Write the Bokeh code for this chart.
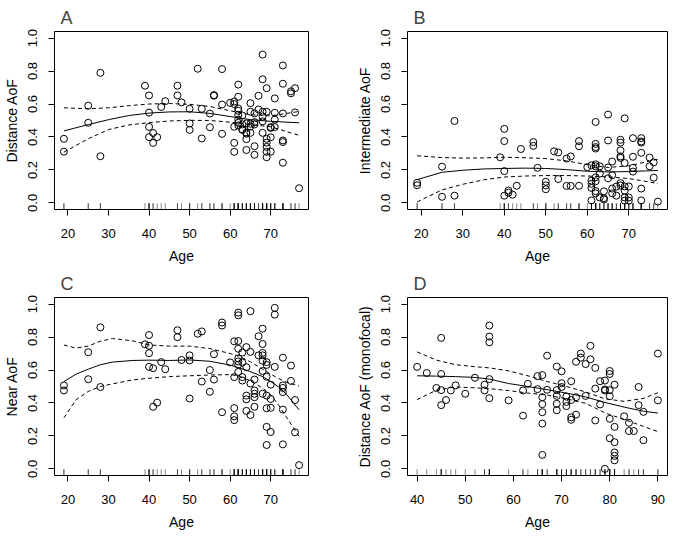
from bokeh.plotting import figure
from bokeh.layouts import gridplot
from bokeh.models import Range1d, FixedTicker, NumeralTickFormatter
from bokeh.embed import file_html
from bokeh.resources import INLINE

FONT = "Liberation Sans"

# ---------------- Panel A : Distance AoF ----------------
a_age = [19, 19, 25, 25, 28, 28, 39, 40, 40, 40, 40, 41, 41, 42, 43, 44, 47, 47, 48,
         50, 50, 50, 52, 53, 53, 55, 55, 56, 56, 58, 58, 58, 60,
         61, 61, 61, 61, 61,
         62, 62, 62, 62, 62, 62, 62, 62,
         63, 63, 63, 63,
         64, 64, 64, 64, 64,
         65, 65, 65, 65, 65,
         66, 66, 66, 66, 66,
         67, 67,
         68, 68, 68, 68, 68, 68,
         69, 69, 69, 69, 69, 69, 69,
         70, 70, 70, 70,
         71, 71, 71, 71,
         73, 73, 73, 73, 73, 73,
         75, 75, 76, 76, 77]
a_val = [0.389, 0.311, 0.590, 0.486, 0.789, 0.283, 0.711, 0.652, 0.548, 0.461, 0.399, 0.424, 0.364, 0.399, 0.582, 0.617, 0.711, 0.652, 0.610,
         0.571, 0.482, 0.443, 0.814, 0.571, 0.391, 0.542, 0.459, 0.654, 0.650, 0.812, 0.597, 0.419, 0.607,
         0.615, 0.600, 0.462, 0.364, 0.310,
         0.718, 0.644, 0.573, 0.559, 0.534, 0.505, 0.486, 0.470,
         0.530, 0.476, 0.447, 0.443,
         0.482, 0.427, 0.420, 0.387, 0.321,
         0.605, 0.553, 0.480, 0.464, 0.425,
         0.543, 0.490, 0.476, 0.344, 0.292,
         0.650, 0.567,
         0.900, 0.750, 0.553, 0.524, 0.495, 0.425,
         0.696, 0.553, 0.389, 0.366, 0.340, 0.310, 0.277,
         0.460, 0.455, 0.398, 0.311,
         0.634, 0.547, 0.505, 0.460,
         0.834, 0.723, 0.543, 0.379, 0.369, 0.244,
         0.677, 0.665, 0.696, 0.549, 0.089]
a_fit_age = [19, 25, 30, 35, 40, 45, 50, 55, 60, 65, 70, 77]
a_fit = [0.437, 0.475, 0.505, 0.530, 0.545, 0.552, 0.553, 0.543, 0.524, 0.505, 0.495, 0.486]
a_upper = [0.577, 0.571, 0.577, 0.590, 0.600, 0.603, 0.598, 0.585, 0.559, 0.535, 0.528, 0.555]
a_lower = [0.308, 0.389, 0.445, 0.473, 0.487, 0.497, 0.501, 0.500, 0.490, 0.475, 0.462, 0.410]

# ---------------- Panel B : Intermediate AoF ----------------
b_age = [19, 19, 25, 25, 28, 28, 39, 40, 40, 40, 40, 41, 41, 42, 43, 44, 47, 47, 48,
         50, 50, 50, 52, 53, 53, 55, 55, 56, 56, 58, 58, 58, 60,
         61, 61, 61, 61, 61,
         62, 62, 62, 62, 62, 62, 62, 62, 62, 62,
         63, 63, 63, 64, 64, 64,
         65, 65, 65, 65, 66, 66, 66, 66, 67, 67,
         68, 68, 68, 68, 68, 68, 68,
         69, 69, 69, 69, 69, 69, 70, 70, 70,
         71, 71, 71, 71, 73, 73, 73, 73, 73, 73,
         75, 75, 76, 76, 77]
b_val = [0.122, 0.107, 0.220, 0.037, 0.497, 0.044, 0.277, 0.449, 0.375, 0.193, 0.044, 0.075, 0.062, 0.050, 0.104, 0.327, 0.369, 0.346, 0.213,
         0.128, 0.106, 0.083, 0.313, 0.306, 0.145, 0.269, 0.103, 0.282, 0.103, 0.375, 0.344, 0.104, 0.217,
         0.228, 0.135, 0.116, 0.091, 0.015,
         0.491, 0.358, 0.339, 0.330, 0.234, 0.222, 0.155, 0.131, 0.072, 0.058,
         0.178, 0.222, 0.033, 0.070, 0.029, 0.021,
         0.536, 0.379, 0.215, 0.149, 0.251, 0.168, 0.087, 0.058, 0.099, 0.044,
         0.383, 0.366, 0.319, 0.282, 0.273, 0.120, 0.106,
         0.513, 0.242, 0.100, 0.074, 0.033, 0.014, 0.100, 0.033, 0.014,
         0.393, 0.280, 0.213, 0.190, 0.393, 0.373, 0.366, 0.304, 0.087, 0.015,
         0.275, 0.222, 0.246, 0.153, 0.008]
b_fit_age = [19, 25, 30, 35, 40, 45, 50, 55, 60, 65, 70, 77]
b_fit = [0.141, 0.186, 0.198, 0.206, 0.209, 0.211, 0.209, 0.202, 0.192, 0.188, 0.190, 0.197]
b_upper = [0.286, 0.275, 0.272, 0.273, 0.277, 0.274, 0.269, 0.255, 0.232, 0.215, 0.225, 0.265]
b_lower = [0.006, 0.079, 0.113, 0.140, 0.157, 0.163, 0.166, 0.166, 0.163, 0.158, 0.148, 0.118]

# ---------------- Panel C : Near AoF ----------------
c_age = [19, 19, 25, 25, 28, 28, 39, 40, 40, 40, 40, 41, 41, 42, 43, 44, 47, 47, 48,
         50, 50, 50, 52, 53, 53, 55, 55, 56, 56, 58, 58, 58, 60,
         61, 61, 61, 61, 61,
         62, 62, 62, 62, 62, 62, 62, 62,
         63, 63, 63, 63, 64, 64, 64, 64, 64,
         65, 65, 65, 65, 66, 66, 66, 66, 66, 67, 67,
         68, 68, 68, 68, 68, 68, 68,
         69, 69, 69, 69, 69, 69, 69, 70, 70, 70, 70,
         71, 71, 71, 73, 73, 73, 73, 73, 73,
         75, 75, 76, 76, 77]
c_val = [0.507, 0.476, 0.708, 0.544, 0.859, 0.497, 0.756, 0.812, 0.747, 0.702, 0.619, 0.611, 0.377, 0.402, 0.648, 0.605, 0.841, 0.799, 0.661,
         0.689, 0.658, 0.427, 0.820, 0.834, 0.530, 0.600, 0.468, 0.696, 0.542, 0.888, 0.870, 0.344, 0.646,
         0.774, 0.557, 0.369, 0.319, 0.296,
         0.948, 0.932, 0.776, 0.729, 0.671, 0.652, 0.632, 0.588,
         0.706, 0.646, 0.557, 0.536, 0.739, 0.617, 0.445, 0.422, 0.352,
         0.957, 0.710, 0.518, 0.327, 0.542, 0.476, 0.456, 0.435, 0.377, 0.805, 0.689,
         0.851, 0.758, 0.704, 0.689, 0.656, 0.594, 0.456,
         0.648, 0.631, 0.559, 0.445, 0.368, 0.255, 0.145, 0.511, 0.424, 0.371, 0.224,
         0.977, 0.936, 0.619, 0.675, 0.507, 0.491, 0.466, 0.360, 0.149,
         0.627, 0.534, 0.418, 0.222, 0.023]
c_fit_age = [19, 22, 25, 28, 31, 36, 40, 45, 50, 55, 60, 62, 65, 68, 70, 72, 74, 77]
c_fit = [0.530, 0.575, 0.605, 0.632, 0.648, 0.658, 0.660, 0.658, 0.661, 0.653, 0.630, 0.615, 0.590, 0.560, 0.530, 0.497, 0.450, 0.358]
c_upper = [0.752, 0.733, 0.745, 0.775, 0.791, 0.777, 0.752, 0.745, 0.745, 0.730, 0.700, 0.685, 0.650, 0.605, 0.575, 0.548, 0.525, 0.503]
c_lower = [0.310, 0.420, 0.470, 0.500, 0.516, 0.540, 0.550, 0.560, 0.565, 0.570, 0.572, 0.565, 0.535, 0.490, 0.450, 0.385, 0.310, 0.197]

# ---------------- Panel D : Distance AoF (monofocal) ----------------
d_age = [40, 42, 44, 45, 45, 45, 45, 46, 47, 48, 50, 52, 54, 54, 55, 55, 55, 55, 55,
         59, 62, 62, 63, 65, 65, 66, 66, 66, 66, 66, 66, 67, 67,
         69, 69, 69, 69, 69, 70, 70, 70, 71, 71, 71, 72, 72, 72, 72,
         73, 73, 73, 74, 74, 75, 75, 76, 76, 77, 77, 77, 78, 78,
         79, 79, 79, 79, 80, 80, 80, 80, 80, 80,
         81, 81, 81, 81, 81, 81, 83, 84, 84, 85, 86, 86, 87, 87, 90, 90]
d_val = [0.619, 0.582, 0.491, 0.795, 0.576, 0.478, 0.387, 0.418, 0.476, 0.507, 0.456, 0.553, 0.511, 0.476, 0.870, 0.803, 0.768, 0.545, 0.429,
         0.416, 0.323, 0.476, 0.516, 0.563, 0.484, 0.569, 0.435, 0.393, 0.344, 0.275, 0.085, 0.687, 0.480,
         0.621, 0.478, 0.443, 0.395, 0.356, 0.592, 0.520, 0.497, 0.439, 0.406, 0.381, 0.532, 0.418, 0.313, 0.298,
         0.650, 0.435, 0.329, 0.700, 0.675, 0.636, 0.443, 0.747, 0.665, 0.613, 0.487, 0.294, 0.532, 0.391,
         0.536, 0.482, 0.476, 0.000, 0.594, 0.576, 0.478, 0.441, 0.304, 0.186,
         0.511, 0.255, 0.162, 0.100, 0.079, 0.052, 0.319, 0.280, 0.230, 0.230, 0.497, 0.387, 0.346, 0.174, 0.700, 0.416]
d_fit_age = [40, 44, 48, 52, 55, 59, 63, 67, 71, 75, 79, 83, 87, 90]
d_fit = [0.565, 0.563, 0.560, 0.555, 0.545, 0.518, 0.500, 0.481, 0.460, 0.437, 0.403, 0.375, 0.350, 0.339]
d_upper = [0.710, 0.660, 0.632, 0.620, 0.613, 0.595, 0.565, 0.530, 0.500, 0.467, 0.425, 0.410, 0.428, 0.462]
d_lower = [0.420, 0.478, 0.497, 0.492, 0.487, 0.475, 0.460, 0.448, 0.425, 0.398, 0.340, 0.300, 0.258, 0.226]

ticks_abc = [20, 30, 40, 50, 60, 70]
ticks_d = [40, 50, 60, 70, 80, 90]
y_ticks = [0.0, 0.2, 0.4, 0.6, 0.8, 1.0]


def panel(letter, ylabel, ages, vals, fx, fy, fu, fl, xticks, bl, br):
    span = max(ages) - min(ages)
    xr = Range1d(min(ages) - 0.04 * span, max(ages) + 0.04 * span)
    yr = Range1d(-0.04, 1.04)
    p = figure(width=334, height=266, x_range=xr, y_range=yr,
               output_backend="svg", toolbar_location=None, title=letter,
               min_border_left=bl, min_border_right=br,
               min_border_top=31, min_border_bottom=46)
    p.title.text_font = FONT
    p.title.text_font_size = "18px"
    p.title.text_font_style = "normal"
    p.title.align = "left"
    p.title.offset = 6
    p.title.standoff = 8
    p.xgrid.visible = False
    p.ygrid.visible = False
    p.outline_line_color = "black"
    p.outline_line_alpha = 1.0
    p.outline_line_width = 1
    p.background_fill_color = "white"
    p.border_fill_color = "white"

    for ax in (p.xaxis[0], p.yaxis[0]):
        ax.axis_line_color = None
        ax.major_tick_out = 6
        ax.major_tick_in = 0
        ax.minor_tick_out = 0
        ax.minor_tick_in = 0
        ax.major_tick_line_color = "black"
        ax.major_label_text_font = FONT
        ax.major_label_text_font_size = "13px"
        ax.major_label_text_color = "black"
        ax.axis_label_text_font = FONT
        ax.axis_label_text_font_size = "14px"
        ax.axis_label_text_font_style = "normal"
        ax.axis_label_text_color = "black"

    p.xaxis.ticker = FixedTicker(ticks=xticks)
    p.xaxis.axis_label = "Age"
    p.xaxis.major_label_standoff = 13
    p.xaxis.axis_label_standoff = 7

    p.yaxis.ticker = FixedTicker(ticks=y_ticks)
    p.yaxis.formatter = NumeralTickFormatter(format="0.0")
    p.yaxis.major_label_orientation = "vertical"
    p.yaxis.axis_label = ylabel
    p.yaxis.major_label_standoff = 11
    p.yaxis.axis_label_standoff = 6

    # rug along the bottom edge
    rug_len = 0.038
    p.segment(x0=ages, y0=[yr.start] * len(ages), x1=ages,
              y1=[yr.start + rug_len] * len(ages),
              line_color="black", line_width=0.6, line_alpha=0.8)

    p.scatter(ages, vals, marker="circle", size=7, fill_color=None,
              line_color="black", line_width=1)
    p.line(fx, fy, line_color="black", line_width=1)
    p.line(fx, fu, line_color="black", line_width=1, line_dash="4 3")
    p.line(fx, fl, line_color="black", line_width=1, line_dash="4 3")
    return p


pA = panel("A", "Distance AoF", a_age, a_val, a_fit_age, a_fit, a_upper, a_lower, ticks_abc, 48, 26)
pB = panel("B", "Intermediate AoF", b_age, b_val, b_fit_age, b_fit, b_upper, b_lower, ticks_abc, 73, 1)
pC = panel("C", "Near AoF", c_age, c_val, c_fit_age, c_fit, c_upper, c_lower, ticks_abc, 48, 26)
pD = panel("D", "Distance AoF (monofocal)", d_age, d_val, d_fit_age, d_fit, d_upper, d_lower, ticks_d, 73, 1)

grid = gridplot([[pA, pB], [pC, pD]], toolbar_location=None)

open("out.html", "w").write(file_html(grid, INLINE))
